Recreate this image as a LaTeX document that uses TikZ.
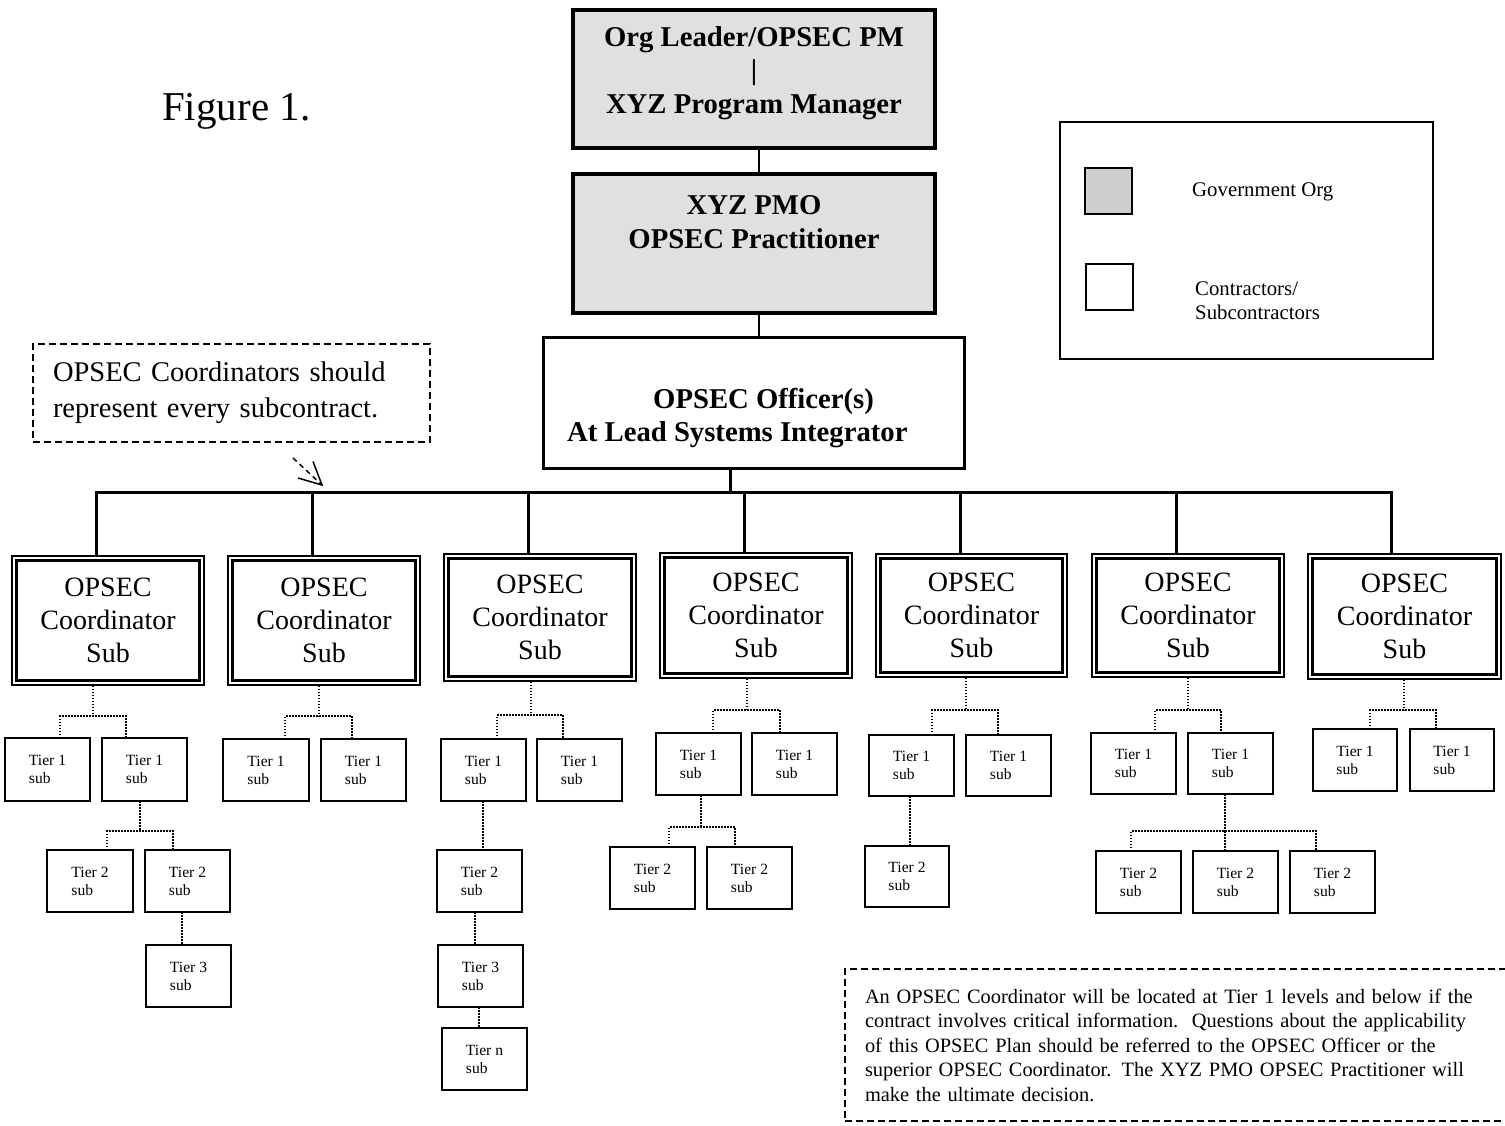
\documentclass[tikz,border=0pt]{standalone}
\usepackage{fontspec}
\setmainfont{Liberation Serif}
\usetikzlibrary{arrows.meta,backgrounds}
\newcommand{\bx}[7][]{\node[#1, minimum width={#5-(#3)}, minimum height={#6-(#4)}] (#2) at ({(#3+#5)/2},{(#4+#6)/2}) {#7};}
\newcommand{\cbx}[5]{\node[coordbox, minimum width={#4-(#2)-6.6}, minimum height={#5-(#3)-6.6}] (#1) at ({(#2+#4)/2},{(#3+#5)/2}) {OPSEC\\Coordinator\\Sub};}
\begin{document}
\begin{tikzpicture}[x=1pt,y=-1pt,
  gov/.style={draw, line width=3.3pt, fill=black!12, inner sep=0pt, outer sep=0pt},
  officer/.style={draw, line width=3pt, inner sep=0pt, outer sep=0pt},
  boldtxt/.style={align=center, font=\bfseries\fontsize{28.7}{33.5}\selectfont, inner sep=0pt},
  coordbox/.style={draw, double, double distance=2pt, line width=2.3pt, align=center, inner sep=0pt, outer sep=0pt, font=\fontsize{28}{33}\selectfont},
  tierbox/.style={draw, line width=2.3pt, align=left, inner sep=0pt, outer sep=0pt, font=\fontsize{15.6}{18}\selectfont},
  link/.style={line width=2pt},
  bus/.style={line width=3pt, line join=miter},
  dotc/.style={line width=1.5pt, dash pattern=on 1.5pt off 1.5pt},
  dashbox/.style={draw, line width=1.5pt, dash pattern=on 7pt off 4pt},
  legtxt/.style={align=left, inner sep=0pt, font=\fontsize{20.8}{24}\selectfont}
]
\useasboundingbox (0,0) rectangle (1505,1125);

% title
\node[anchor=base west, inner sep=0pt, font=\fontsize{41}{45}\selectfont] (fig) at (162,120) {Figure 1.};

% top chain
\bx[gov]{b1}{573}{10}{935}{148}{}
\node[boldtxt] (b1t) at (754,73) {Org Leader/OPSEC PM\\|\\XYZ Program Manager};
\bx[gov]{b2}{573}{174}{935}{313}{}
\node[boldtxt] (b2t) at (754,222) {XYZ PMO\\OPSEC Practitioner};
\bx[officer]{b3}{543}{337}{964}{468}{}
\node[boldtxt, align=left, anchor=west] (b3t) at (567,418) {\hspace*{86pt}OPSEC Officer(s)\\At Lead Systems Integrator};

% legend
\bx[draw, line width=1.5pt]{leg}{1060}{122}{1433}{359}{}
\bx[draw, line width=2pt, fill=black!19]{legG}{1085}{168}{1132}{214}{}
\bx[draw, line width=2pt, fill=white]{legC}{1086}{264}{1133}{310}{}
\node[legtxt, anchor=west] (legGt) at (1192,192) {Government Org};
\node[legtxt, anchor=west] (legCt) at (1195,301) {Contractors/\\Subcontractors};

% callout
\node[dashbox, align=left, text width=357pt, inner xsep=20pt, minimum height=98pt, font=\fontsize{28.5}{36}\selectfont] (call) at (231.5,393) {OPSEC Coordinators should\\represent every subcontract.};
\coordinate (aS) at (293,458);
\coordinate (aE) at (322,485);
\draw[line width=1.5pt, dash pattern=on 5pt off 4pt] (aS) -- (aE);
\draw[line width=1.5pt, line join=miter] (aE) ++(-24,-7) -- (aE) -- ++(-9,-23.5);

% note
\node[dashbox, align=left, text width=660pt, inner xsep=20pt, minimum height=152pt, font=\fontsize{20.4}{24.5}\selectfont] (note) at (1195,1045) {An OPSEC Coordinator will be located at Tier 1 levels and below if the\\contract involves critical information.\ \ Questions about the applicability\\of this OPSEC Plan should be referred to the OPSEC Officer or the\\superior OPSEC Coordinator. The XYZ PMO OPSEC Practitioner will\\make the ultimate decision.};

% coordinators
\cbx{c1}{11}{555}{205}{686}
\cbx{c2}{227}{555}{421}{686}
\cbx{c3}{443}{553}{637}{682}
\cbx{c4}{659}{552}{853}{679}
\cbx{c5}{875}{553}{1068}{678}
\cbx{c6}{1091}{553}{1285}{678}
\cbx{c7}{1307}{553}{1502}{680}

% tier boxes
\bx[tierbox]{t11}{5}{738}{90}{801}{Tier 1\\sub}
\bx[tierbox]{t12}{102}{738}{187}{801}{Tier 1\\sub}
\bx[tierbox]{t21}{47}{850}{133}{912}{Tier 2\\sub}
\bx[tierbox]{t22}{145}{850}{230}{912}{Tier 2\\sub}
\bx[tierbox]{t3}{146}{945}{231}{1007}{Tier 3\\sub}

\bx[tierbox]{u11}{223}{739}{309}{801}{Tier 1\\sub}
\bx[tierbox]{u12}{321}{739}{406}{801}{Tier 1\\sub}

\bx[tierbox]{v11}{441}{739}{526}{801}{Tier 1\\sub}
\bx[tierbox]{v12}{537}{739}{622}{801}{Tier 1\\sub}
\bx[tierbox]{v2}{437}{850}{522}{912}{Tier 2\\sub}
\bx[tierbox]{v3}{438}{945}{523}{1007}{Tier 3\\sub}
\bx[tierbox]{vn}{442}{1028}{527}{1090}{Tier n\\sub}

\bx[tierbox]{w11}{656}{733}{741}{795}{Tier 1\\sub}
\bx[tierbox]{w12}{752}{733}{837}{795}{Tier 1\\sub}
\bx[tierbox]{w21}{610}{847}{695}{909}{Tier 2\\sub}
\bx[tierbox]{w22}{707}{847}{792}{909}{Tier 2\\sub}

\bx[tierbox]{x11}{869}{735}{954}{796}{Tier 1\\sub}
\bx[tierbox]{x12}{966}{735}{1051}{796}{Tier 1\\sub}
\bx[tierbox]{x2}{865}{846}{949}{907}{Tier 2\\sub}

\bx[tierbox]{y11}{1091}{733}{1176}{794}{Tier 1\\sub}
\bx[tierbox]{y12}{1188}{733}{1273}{794}{Tier 1\\sub}
\bx[tierbox]{y21}{1096}{851}{1181}{913}{Tier 2\\sub}
\bx[tierbox]{y22}{1193}{851}{1278}{913}{Tier 2\\sub}
\bx[tierbox]{y23}{1290}{851}{1375}{913}{Tier 2\\sub}

\bx[tierbox]{z11}{1313}{729}{1397}{791}{Tier 1\\sub}
\bx[tierbox]{z12}{1410}{729}{1494}{791}{Tier 1\\sub}

\begin{scope}[on background layer]
  % top links
  \coordinate (v1) at (759,160);
  \draw[link] (b1.south -| v1) -- (b2.north -| v1);
  \draw[link] (b2.south -| v1) -- (b3.north -| v1);
  % bus
  \coordinate (j0) at (730,492);
  \coordinate (d1) at (96,492);
  \coordinate (d2) at (312,492);
  \coordinate (d3) at (528,492);
  \coordinate (d4) at (744,492);
  \coordinate (d5) at (960,492);
  \coordinate (d6) at (1176,492);
  \coordinate (d7) at (1391,492);
  \draw[bus] (b3.south -| j0) -- (j0);
  \draw[bus] (c1.north -| d1) -- (d1) -- (d7) -- (c7.north -| d7);
  \foreach \i in {2,...,6} {\draw[bus] (d\i) -- (c\i.north -| d\i);}

  % dotted forks
  % col 1
  \coordinate (k1) at (93,716); \coordinate (k1L) at (60,716); \coordinate (k1R) at (126,716);
  \draw[dotc] (c1.south -| k1) -- (k1);
  \draw[dotc] (t11.north -| k1L) -- (k1L) -- (k1R) -- (t12.north -| k1R);
  \coordinate (k2) at (140,831); \coordinate (k2L) at (107,831); \coordinate (k2R) at (173,831);
  \draw[dotc] (t12.south -| k2) -- (k2);
  \draw[dotc] (t21.north -| k2L) -- (k2L) -- (k2R) -- (t22.north -| k2R);
  \coordinate (s1) at (182,930);
  \draw[dotc] (t22.south -| s1) -- (t3.north -| s1);
  % col 2
  \coordinate (k3) at (319,716); \coordinate (k3L) at (285,716); \coordinate (k3R) at (352,716);
  \draw[dotc] (c2.south -| k3) -- (k3);
  \draw[dotc] (u11.north -| k3L) -- (k3L) -- (k3R) -- (u12.north -| k3R);
  % col 3
  \coordinate (k4) at (531,715); \coordinate (k4L) at (497,715); \coordinate (k4R) at (563,715);
  \draw[dotc] (c3.south -| k4) -- (k4);
  \draw[dotc] (v11.north -| k4L) -- (k4L) -- (k4R) -- (v12.north -| k4R);
  \coordinate (s2) at (483,830); \coordinate (s3) at (475,930); \coordinate (s4) at (479,1015);
  \draw[dotc] (v11.south -| s2) -- (v2.north -| s2);
  \draw[dotc] (v2.south -| s3) -- (v3.north -| s3);
  \draw[dotc] (v3.south -| s4) -- (vn.north -| s4);
  % col 4
  \coordinate (k5) at (747,710); \coordinate (k5L) at (713,710); \coordinate (k5R) at (780,710);
  \draw[dotc] (c4.south -| k5) -- (k5);
  \draw[dotc] (w11.north -| k5L) -- (k5L) -- (k5R) -- (w12.north -| k5R);
  \coordinate (k6) at (701,827); \coordinate (k6L) at (669,827); \coordinate (k6R) at (735,827);
  \draw[dotc] (w11.south -| k6) -- (k6);
  \draw[dotc] (w21.north -| k6L) -- (k6L) -- (k6R) -- (w22.north -| k6R);
  % col 5
  \coordinate (k7) at (966,710); \coordinate (k7L) at (932,710); \coordinate (k7R) at (998,710);
  \draw[dotc] (c5.south -| k7) -- (k7);
  \draw[dotc] (x11.north -| k7L) -- (k7L) -- (k7R) -- (x12.north -| k7R);
  \coordinate (s5) at (910,820);
  \draw[dotc] (x11.south -| s5) -- (x2.north -| s5);
  % col 6
  \coordinate (k8) at (1188,710); \coordinate (k8L) at (1155,710); \coordinate (k8R) at (1221,710);
  \draw[dotc] (c6.south -| k8) -- (k8);
  \draw[dotc] (y11.north -| k8L) -- (k8L) -- (k8R) -- (y12.north -| k8R);
  \coordinate (k9) at (1225,831); \coordinate (k9L) at (1131,831); \coordinate (k9R) at (1316,831);
  \draw[dotc] (y12.south -| k9) -- (k9);
  \draw[dotc] (y21.north -| k9L) -- (k9L) -- (k9R) -- (y23.north -| k9R);
  \draw[dotc] (k9) -- (y22.north -| k9);
  % col 7
  \coordinate (k10) at (1404,710); \coordinate (k10L) at (1370,710); \coordinate (k10R) at (1436,710);
  \draw[dotc] (c7.south -| k10) -- (k10);
  \draw[dotc] (z11.north -| k10L) -- (k10L) -- (k10R) -- (z12.north -| k10R);
\end{scope}
\end{tikzpicture}
\end{document}
